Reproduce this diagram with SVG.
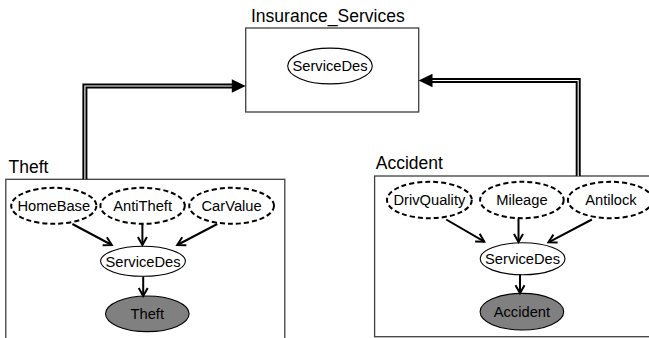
<svg xmlns="http://www.w3.org/2000/svg" width="649" height="338" viewBox="0 0 649 338">
  <style>
    .frame { fill: #ffffff; stroke: #404040; stroke-width: 1.3; }
    .title { font-family: "Liberation Sans", Arial, sans-serif; font-size: 17.5px; fill: #000; }
    .lbl { font-family: "Liberation Sans", Arial, sans-serif; font-size: 14.7px; fill: #000; text-anchor: middle; }
    .hidden { fill: #ffffff; stroke: #000; stroke-width: 2; stroke-dasharray: 5 3; }
    .plain { fill: #ffffff; stroke: #000; stroke-width: 1.1; }
    .obs { fill: #808080; stroke: #000; stroke-width: 1.1; }
    .edge { fill: none; stroke: #000; stroke-width: 2; marker-end: url(#open); }
    .link-outer { fill: none; stroke: #000; stroke-width: 5; }
    .link-inner { fill: none; stroke: #ffffff; stroke-width: 1.1; }
    .head { fill: #000; }
  </style>
  <defs>
    <marker id="open" markerUnits="userSpaceOnUse" markerWidth="12" markerHeight="12" refX="9" refY="6" orient="auto">
      <path d="M1,1.5 L9,6 L1,10.5" fill="none" stroke="#000" stroke-width="2"/>
    </marker>
  </defs>

  <!-- container frames -->
  <g id="insurance_services">
    <rect class="frame" x="245.7" y="28" width="173" height="84"/>
    <text class="title" x="251" y="22">Insurance_Services</text>
    <g id="ins_servicedes">
      <ellipse class="plain" cx="330" cy="66" rx="42.3" ry="17.9"/>
      <text class="lbl" x="330" y="71.3">ServiceDes</text>
    </g>
  </g>

  <g id="theft">
    <rect class="frame" x="5.8" y="179.3" width="279" height="170"/>
    <text class="title" x="8.5" y="173.3">Theft</text>
    <g id="theft_homebase">
      <ellipse class="hidden" cx="53.8" cy="205.8" rx="42.6" ry="18"/>
      <text class="lbl" x="53.8" y="211.2">HomeBase</text>
    </g>
    <g id="theft_antitheft">
      <ellipse class="hidden" cx="142.6" cy="205.8" rx="42.2" ry="18"/>
      <text class="lbl" x="142.6" y="211.2">AntiTheft</text>
    </g>
    <g id="theft_carvalue">
      <ellipse class="hidden" cx="231.6" cy="205.8" rx="42.4" ry="18"/>
      <text class="lbl" x="231.6" y="211.2">CarValue</text>
    </g>
    <g id="theft_servicedes">
      <ellipse class="plain" cx="143" cy="261.3" rx="42.4" ry="15"/>
      <text class="lbl" x="143" y="266.6">ServiceDes</text>
    </g>
    <g id="theft_theft">
      <ellipse class="obs" cx="147.3" cy="313.8" rx="41.8" ry="17.8"/>
      <text class="lbl" x="147.3" y="319.2">Theft</text>
    </g>
  </g>

  <g id="accident">
    <rect class="frame" x="374.6" y="176" width="290" height="160.7"/>
    <text class="title" x="375.8" y="169">Accident</text>
    <g id="acc_drivquality">
      <ellipse class="hidden" cx="429.4" cy="200" rx="42.4" ry="18.2"/>
      <text class="lbl" x="429.4" y="205.4">DrivQuality</text>
    </g>
    <g id="acc_mileage">
      <ellipse class="hidden" cx="521.9" cy="200" rx="41.8" ry="18.2"/>
      <text class="lbl" x="521.9" y="205.4">Mileage</text>
    </g>
    <g id="acc_antilock">
      <ellipse class="hidden" cx="610.3" cy="200" rx="42.4" ry="18.2"/>
      <text class="lbl" x="611" y="205.4">Antilock</text>
    </g>
    <g id="acc_servicedes">
      <ellipse class="plain" cx="522.6" cy="258.8" rx="42.4" ry="16"/>
      <text class="lbl" x="522.6" y="264.1">ServiceDes</text>
    </g>
    <g id="acc_accident">
      <ellipse class="obs" cx="521.9" cy="311.7" rx="41.8" ry="18.3"/>
      <text class="lbl" x="521.9" y="317">Accident</text>
    </g>
  </g>

  <!-- connectors -->
  <g id="connectors">
    <!-- double-line links from submodels up to Insurance_Services -->
    <path class="link-outer" d="M84.9,179.3 V86 H232.5"/>
    <path class="link-inner" d="M84.9,179.3 V86 H232.5"/>
    <polygon class="head" points="245.7,86 231.8,79.2 231.8,92.8"/>

    <path class="link-outer" d="M578.2,176 V80.5 H432"/>
    <path class="link-inner" d="M578.2,176 V80.5 H432"/>
    <polygon class="head" points="418.6,80.5 432.5,73.7 432.5,87.3"/>

    <!-- Theft network -->
    <line class="edge" x1="72.4" y1="224" x2="111.8" y2="245"/>
    <line class="edge" x1="142.4" y1="224" x2="142.4" y2="245"/>
    <line class="edge" x1="217.3" y1="224" x2="177.2" y2="245"/>
    <line class="edge" x1="143.2" y1="276.5" x2="143.2" y2="296"/>

    <!-- Accident network -->
    <line class="edge" x1="446.2" y1="219.5" x2="484.3" y2="241.7"/>
    <line class="edge" x1="518.5" y1="218.5" x2="518.5" y2="242"/>
    <line class="edge" x1="591.9" y1="219.5" x2="548.4" y2="242.3"/>
    <line class="edge" x1="520" y1="274.8" x2="520" y2="293.3"/>
  </g>
</svg>
